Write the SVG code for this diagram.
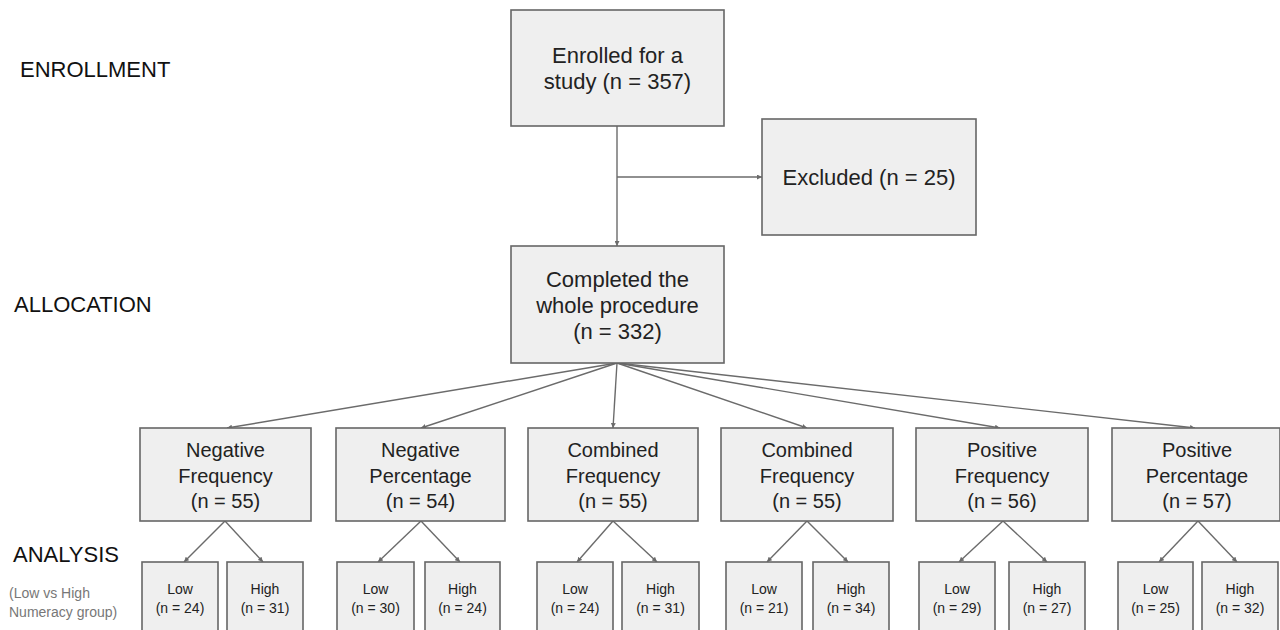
<svg xmlns="http://www.w3.org/2000/svg" width="1280" height="630" viewBox="0 0 1280 630">
<defs>
<style>
.box{fill:#efefef;stroke:#666;stroke-width:1.6}
.t{font-family:"Liberation Sans",Arial,sans-serif;fill:#222;text-anchor:middle}
.big{font-size:22px}
.mid{font-size:20px}
.sm{font-size:14px}
.lab{font-family:"Liberation Sans",Arial,sans-serif;fill:#111;font-size:22px}
.note{font-family:"Liberation Sans",Arial,sans-serif;fill:#777;font-size:14px}
.c{fill:none;stroke:#6b6b6b;stroke-width:1.4}
</style>
<marker id="ah" viewBox="0 0 10 10" refX="10" refY="5" markerWidth="5" markerHeight="5" orient="auto" markerUnits="userSpaceOnUse">
<path d="M0,0 L10,5 L0,10 z" fill="#6b6b6b"/>
</marker>
</defs>
<rect width="1280" height="630" fill="#fff"/>

<g id="labels">
<text class="lab" x="20" y="77">ENROLLMENT</text>
<text class="lab" x="14" y="312">ALLOCATION</text>
<text class="lab" x="13" y="562">ANALYSIS</text>
<text class="note" x="9" y="598">(Low vs High</text>
<text class="note" x="9" y="617">Numeracy group)</text>
</g>

<g id="connectors">
<path class="c" d="M617,126 V246" marker-end="url(#ah)"/>
<path class="c" d="M617,177 H762" marker-end="url(#ah)"/>
<path class="c" d="M617,363 L227,428" marker-end="url(#ah)"/>
<path class="c" d="M617,363 L421,428" marker-end="url(#ah)"/>
<path class="c" d="M617,363 L613,428" marker-end="url(#ah)"/>
<path class="c" d="M617,363 L807,428" marker-end="url(#ah)"/>
<path class="c" d="M617,363 L1000,428" marker-end="url(#ah)"/>
<path class="c" d="M617,363 L1195,428" marker-end="url(#ah)"/>
<path class="c" d="M225,521 L184,562" marker-end="url(#ah)"/>
<path class="c" d="M225,521 L263,562" marker-end="url(#ah)"/>
<path class="c" d="M421,521 L378,562" marker-end="url(#ah)"/>
<path class="c" d="M421,521 L460,562" marker-end="url(#ah)"/>
<path class="c" d="M613,521 L577,562" marker-end="url(#ah)"/>
<path class="c" d="M613,521 L657,562" marker-end="url(#ah)"/>
<path class="c" d="M807,521 L767,562" marker-end="url(#ah)"/>
<path class="c" d="M807,521 L848,562" marker-end="url(#ah)"/>
<path class="c" d="M1003,521 L959,562" marker-end="url(#ah)"/>
<path class="c" d="M1003,521 L1047,562" marker-end="url(#ah)"/>
<path class="c" d="M1198,521 L1159,562" marker-end="url(#ah)"/>
<path class="c" d="M1198,521 L1237,562" marker-end="url(#ah)"/>
</g>

<g id="enrolled">
<rect class="box" x="511" y="10" width="213" height="116"/>
<text class="t big" x="617.5" y="63">Enrolled for a</text>
<text class="t big" x="617.5" y="89">study (n = 357)</text>
</g>
<g id="excluded">
<rect class="box" x="762" y="119" width="214" height="116"/>
<text class="t big" x="869" y="185">Excluded (n = 25)</text>
</g>
<g id="completed">
<rect class="box" x="511" y="246" width="213" height="117"/>
<text class="t big" x="617.5" y="287">Completed the</text>
<text class="t big" x="617.5" y="313">whole procedure</text>
<text class="t big" x="617.5" y="339">(n = 332)</text>
</g>

<g id="neg-freq">
<rect class="box" x="140" y="428" width="171" height="93"/>
<text class="t mid" x="225.5" y="457">Negative</text>
<text class="t mid" x="225.5" y="483">Frequency</text>
<text class="t mid" x="225.5" y="508">(n = 55)</text>
</g>
<g id="neg-perc">
<rect class="box" x="336" y="428" width="169" height="93"/>
<text class="t mid" x="420.5" y="457">Negative</text>
<text class="t mid" x="420.5" y="483">Percentage</text>
<text class="t mid" x="420.5" y="508">(n = 54)</text>
</g>
<g id="comb-freq-1">
<rect class="box" x="528" y="428" width="170" height="93"/>
<text class="t mid" x="613" y="457">Combined</text>
<text class="t mid" x="613" y="483">Frequency</text>
<text class="t mid" x="613" y="508">(n = 55)</text>
</g>
<g id="comb-freq-2">
<rect class="box" x="721" y="428" width="172" height="93"/>
<text class="t mid" x="807" y="457">Combined</text>
<text class="t mid" x="807" y="483">Frequency</text>
<text class="t mid" x="807" y="508">(n = 55)</text>
</g>
<g id="pos-freq">
<rect class="box" x="916" y="428" width="172" height="93"/>
<text class="t mid" x="1002" y="457">Positive</text>
<text class="t mid" x="1002" y="483">Frequency</text>
<text class="t mid" x="1002" y="508">(n = 56)</text>
</g>
<g id="pos-perc">
<rect class="box" x="1112" y="428" width="168" height="93"/>
<text class="t mid" x="1197" y="457">Positive</text>
<text class="t mid" x="1197" y="483">Percentage</text>
<text class="t mid" x="1197" y="508">(n = 57)</text>
</g>

<g id="nf-low"><rect class="box" x="142" y="562" width="76" height="80"/><text class="t sm" x="180" y="594">Low</text><text class="t sm" x="180" y="613">(n = 24)</text></g>
<g id="nf-high"><rect class="box" x="227" y="562" width="76" height="80"/><text class="t sm" x="265" y="594">High</text><text class="t sm" x="265" y="613">(n = 31)</text></g>
<g id="np-low"><rect class="box" x="337" y="562" width="77" height="80"/><text class="t sm" x="375.5" y="594">Low</text><text class="t sm" x="375.5" y="613">(n = 30)</text></g>
<g id="np-high"><rect class="box" x="425" y="562" width="75" height="80"/><text class="t sm" x="462.5" y="594">High</text><text class="t sm" x="462.5" y="613">(n = 24)</text></g>
<g id="cf1-low"><rect class="box" x="537" y="562" width="76" height="80"/><text class="t sm" x="575" y="594">Low</text><text class="t sm" x="575" y="613">(n = 24)</text></g>
<g id="cf1-high"><rect class="box" x="622" y="562" width="77" height="80"/><text class="t sm" x="660.5" y="594">High</text><text class="t sm" x="660.5" y="613">(n = 31)</text></g>
<g id="cf2-low"><rect class="box" x="726" y="562" width="76" height="80"/><text class="t sm" x="764" y="594">Low</text><text class="t sm" x="764" y="613">(n = 21)</text></g>
<g id="cf2-high"><rect class="box" x="813" y="562" width="76" height="80"/><text class="t sm" x="851" y="594">High</text><text class="t sm" x="851" y="613">(n = 34)</text></g>
<g id="pf-low"><rect class="box" x="919" y="562" width="76" height="80"/><text class="t sm" x="957" y="594">Low</text><text class="t sm" x="957" y="613">(n = 29)</text></g>
<g id="pf-high"><rect class="box" x="1009" y="562" width="76" height="80"/><text class="t sm" x="1047" y="594">High</text><text class="t sm" x="1047" y="613">(n = 27)</text></g>
<g id="pp-low"><rect class="box" x="1118" y="562" width="75" height="80"/><text class="t sm" x="1155.5" y="594">Low</text><text class="t sm" x="1155.5" y="613">(n = 25)</text></g>
<g id="pp-high"><rect class="box" x="1202" y="562" width="76" height="80"/><text class="t sm" x="1240" y="594">High</text><text class="t sm" x="1240" y="613">(n = 32)</text></g>
</svg>
